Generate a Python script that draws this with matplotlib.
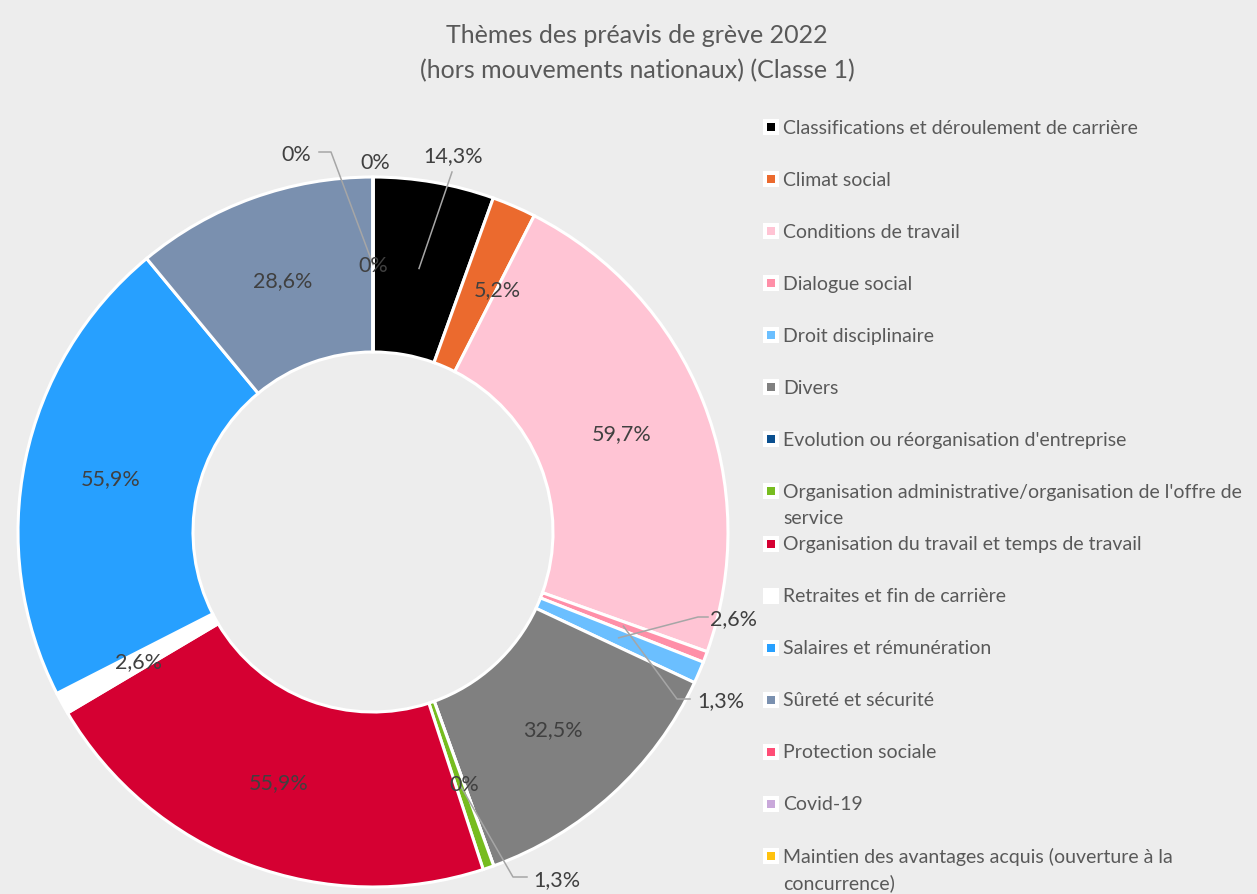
import numpy as np
import matplotlib.pyplot as plt
from matplotlib.patches import Rectangle

plt.rcParams['font.family'] = ['Lato', 'DejaVu Sans']

W, H = 1257, 895

themes = [
    "Classifications et déroulement de carrière",
    "Climat social",
    "Conditions de travail",
    "Dialogue social",
    "Droit disciplinaire",
    "Divers",
    "Evolution ou réorganisation d'entreprise",
    "Organisation administrative/organisation de l'offre de\nservice",
    "Organisation du travail et temps de travail",
    "Retraites et fin de carrière",
    "Salaires et rémunération",
    "Sûreté et sécurité",
    "Protection sociale",
    "Covid-19",
    "Maintien des avantages acquis (ouverture à la\nconcurrence)",
]
values = [14.3, 5.2, 59.7, 1.3, 2.6, 32.5, 0, 1.3, 55.9, 2.6, 55.9, 28.6, 0, 0, 0]
colors = ['#000000', '#EB6A2E', '#FFC4D4', '#FF8FA8', '#6BBFFF', '#808080',
          '#0A4F8F', '#77BC1F', '#D50032', '#FFFFFF', '#27A0FF', '#7A90AF',
          '#FF4D76', '#C9A8DA', '#FFC20E']

bg = '#EDEDED'
txt = '#404040'
lead = '#A6A6A6'


def px(x, y):
    # pixel position (top-left origin) -> data coords
    return x, H - y


fig = plt.figure(figsize=(W / 100, H / 100), dpi=100, facecolor=bg)
ax = fig.add_axes([0, 0, 1, 1])
ax.set_facecolor(bg)

cx, cy = px(373, 533)
R = 355
ring = 175
ax.pie(values, colors=colors, startangle=90, counterclock=False,
       radius=R, center=(cx, cy),
       wedgeprops=dict(width=ring, edgecolor='white', linewidth=2.2))
ax.set_xlim(0, W)
ax.set_ylim(0, H)
ax.set_aspect('equal')
ax.axis('off')

vals = np.array(values)
mid = np.cumsum(vals) - vals / 2
theta = np.deg2rad(90 - mid / vals.sum() * 360)
rm = R - ring / 2
ax_x = cx + rm * np.cos(theta)
ax_y = cy + rm * np.sin(theta)

labels = ['0%' if v == 0 else f"{v:.1f}".replace('.', ',') + '%' for v in values]

# labels moved out of the ring: label pos, leader points (pixel coords)
moved = {
    0: ((453, 156), [(452, 173)]),
    1: ((497, 290), []),
    3: ((721, 701), [(677, 700), (690, 700)]),
    4: ((733, 619), [(698, 618), (708, 618)]),
    7: ((557, 880), [(513, 878), (527, 878)]),
    12: ((375, 163), []),
    13: ((296, 155), [(331, 153), (319, 153)]),
}

fs = 15.5
for i, lab in enumerate(labels):
    if i in moved:
        pos, pts = moved[i]
        lx, ly = px(*pos)
        if pts:
            xs = [ax_x[i]] + [p[0] for p in pts]
            ys = [ax_y[i]] + [H - p[1] for p in pts]
            ax.plot(xs, ys, color=lead, lw=1.1, zorder=3)
        ax.text(lx, ly, lab, ha='center', va='center', fontsize=fs, color=txt, zorder=4)
    else:
        ax.text(ax_x[i], ax_y[i], lab, ha='center', va='center', fontsize=fs,
                color=txt, zorder=4)

# title
ax.text(637, H - 53, "Thèmes des préavis de grève 2022\n(hors mouvements nationaux) (Classe 1)",
        ha='center', va='center', fontsize=18, color='#595959', linespacing=1.6)

# legend
for i, name in enumerate(themes):
    y = H - (128 + i * 52.07)
    ax.add_patch(Rectangle((763, y - 8), 16, 16, facecolor='white', edgecolor='none'))
    ax.add_patch(Rectangle((767, y - 4), 8, 8, facecolor=colors[i], edgecolor='none'))
    for k, line in enumerate(name.split('\n')):
        ax.text(783, y - k * 26, line, ha='left', va='center', fontsize=14,
                color='#595959')

fig.savefig('out.png', dpi=100, facecolor=bg)
